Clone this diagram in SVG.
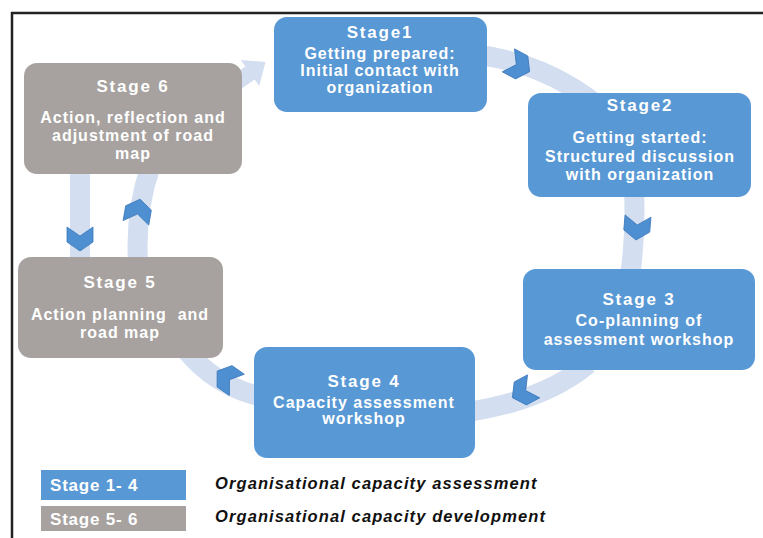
<svg xmlns="http://www.w3.org/2000/svg" xmlns:xlink="http://www.w3.org/1999/xlink" width="763" height="538" viewBox="0 0 763 538">
<style>
.blue{fill:#5898d4}
.gray{fill:#a7a29f}
.band{fill:none;stroke:#d3def0;stroke-width:20}
.chev{fill:#4e8fd1;stroke:#3b78ba;stroke-width:0.8}
.t{font-family:"Liberation Sans",Arial,sans-serif;font-weight:bold;fill:#ffffff;text-anchor:middle}
.ti{font-size:17px;letter-spacing:1.8px}
.bd{font-size:16px;letter-spacing:1px}
.lg{font-family:"Liberation Sans",Arial,sans-serif;font-weight:bold;font-size:17px;fill:#ffffff;letter-spacing:0.8px}
.li{font-family:"Liberation Sans",Arial,sans-serif;font-weight:bold;font-style:italic;font-size:16.5px;fill:#111111;letter-spacing:1.1px}
</style>
<defs>
<path id="chev" d="M-12,-13 L-3,0 L-12,13 L3,13 L12,0 L3,-13 Z"/>
</defs>
<rect x="0" y="0" width="763" height="538" fill="#ffffff"/>
<g id="frame">
<line x1="11" y1="13" x2="763" y2="13" stroke="#222222" stroke-width="2.5"/>
<line x1="12" y1="12" x2="12" y2="538" stroke="#222222" stroke-width="2.5"/>
</g>
<g id="connectors">
<path class="band" d="M480,55 Q545,64 596,104"/>
<path class="band" d="M634,190 Q636,235 630,276"/>
<path class="band" d="M588,364 Q545,400 468,412"/>
<path class="band" d="M262,397 Q215,386 186,350"/>
<path class="band" d="M150,168 Q135,212 138,262"/>
<path class="band" d="M80,168 L80,262"/>
<path d="M-24,-8 L0,-8 L0,-16 L19,0 L0,16 L0,8 L-24,8 Z" fill="#d3def0" transform="translate(250,73) rotate(-35)"/>
<use href="#chev" class="chev" transform="translate(519,66) rotate(28)"/>
<use href="#chev" class="chev" transform="translate(637,228) rotate(95)"/>
<use href="#chev" class="chev" transform="translate(523,392) rotate(152)"/>
<use href="#chev" class="chev" transform="translate(227,378) rotate(215)"/>
<use href="#chev" class="chev" transform="translate(138,211) rotate(-80)"/>
<use href="#chev" class="chev" transform="translate(80,239) rotate(90)"/>
</g>
<g id="stage1">
<rect class="blue" x="274" y="17" width="213" height="95" rx="13"/>
<text class="t ti" x="380" y="38">Stage1</text>
<text class="t bd" x="380" y="59">Getting prepared:</text>
<text class="t bd" x="380" y="76">Initial contact with</text>
<text class="t bd" x="380" y="93">organization</text>
</g>
<g id="stage2">
<rect class="blue" x="528" y="93" width="223" height="104" rx="13"/>
<text class="t ti" x="640" y="111">Stage2</text>
<text class="t bd" x="640" y="143">Getting started:</text>
<text class="t bd" x="640" y="162">Structured discussion</text>
<text class="t bd" x="640" y="180">with organization</text>
</g>
<g id="stage3">
<rect class="blue" x="523" y="269" width="232" height="101" rx="13"/>
<text class="t ti" x="639" y="305">Stage 3</text>
<text class="t bd" x="639" y="326">Co-planning of</text>
<text class="t bd" x="639" y="345">assessment workshop</text>
</g>
<g id="stage4">
<rect class="blue" x="254" y="347" width="221" height="111" rx="13"/>
<text class="t ti" x="364" y="387">Stage 4</text>
<text class="t bd" x="364" y="408">Capacity assessment</text>
<text class="t bd" x="364" y="424">workshop</text>
</g>
<g id="stage5">
<rect class="gray" x="18" y="257" width="205" height="101" rx="13"/>
<text class="t ti" x="120" y="288">Stage 5</text>
<text class="t bd" x="120" y="320">Action planning&#160; and</text>
<text class="t bd" x="120" y="338">road map</text>
</g>
<g id="stage6">
<rect class="gray" x="24" y="63" width="218" height="111" rx="13"/>
<text class="t ti" x="133" y="92">Stage 6</text>
<text class="t bd" x="133" y="123">Action, reflection and</text>
<text class="t bd" x="133" y="141">adjustment of road</text>
<text class="t bd" x="133" y="159">map</text>
</g>
<g id="legend">
<rect class="blue" x="41" y="470" width="145" height="30"/>
<text class="lg" x="50" y="491">Stage 1- 4</text>
<rect class="gray" x="41" y="506" width="145" height="25"/>
<text class="lg" x="50" y="525">Stage 5- 6</text>
<text class="li" x="215" y="489">Organisational capacity assessment</text>
<text class="li" x="215" y="522">Organisational capacity development</text>
</g>
</svg>
